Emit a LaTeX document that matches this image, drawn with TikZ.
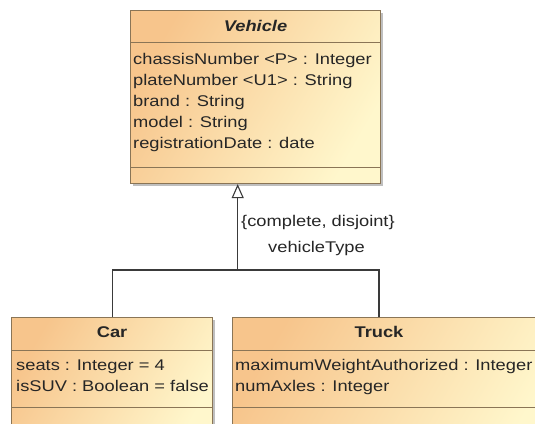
\documentclass[tikz,border=0pt]{standalone}
\usepackage{fontspec}
\setmainfont[FakeStretch=1.18]{Liberation Sans}
\usetikzlibrary{arrows.meta,shadows}
\definecolor{umlorange}{HTML}{F7C58C}
\definecolor{umlyellow}{HTML}{FFF7CC}
\definecolor{umlborder}{HTML}{8A7556}
\definecolor{ink}{HTML}{262626}
\definecolor{wire}{HTML}{3A3A3A}
\tikzset{>=Latex,
  every node/.style={font=\fontsize{15.5}{21}\selectfont,text=ink,inner sep=0pt},
  classbox/.style={draw=umlborder,line width=1.1pt,anchor=north west,
    top color=umlorange,bottom color=umlyellow,shading angle=60,
    drop shadow={shadow xshift=2.5pt,shadow yshift=-2.5pt,fill=black,opacity=.25}},
  compartment/.style={draw=umlborder,line width=.9pt},
  classname/.style={anchor=base,font=\fontsize{15.5}{21}\selectfont\bfseries},
  attr/.style={anchor=base west},
  generalization/.style={draw=wire,line width=1.1pt}}

\begin{document}
\begin{tikzpicture}[x=1pt,y=-1pt]
\path[use as bounding box] (0,0) rectangle (535,423);
% classes
\node[classbox,minimum width=250pt,minimum height=173pt] (vehicle) at (130,10) {};
\node[classbox,minimum width=201pt,minimum height=130pt] (car) at (11,317) {};
\node[classbox,minimum width=328pt,minimum height=130pt] (truck) at (232,317) {};
\foreach \n/\a/\b in {vehicle/32/157,car/33/90,truck/33/90}{
  \draw[compartment] ([yshift=-\a pt]\n.north west)--([yshift=-\a pt]\n.north east);
  \draw[compartment] ([yshift=-\b pt]\n.north west)--([yshift=-\b pt]\n.north east);}
\node[classname] (vehicle-name) at ([yshift=-21.7pt]vehicle.north) {\itshape Vehicle};
\node[classname] (car-name) at ([yshift=-20.5pt]car.north) {Car};
\node[classname] (truck-name) at ([xshift=147pt,yshift=-20.5pt]truck.north west) {Truck};
\foreach \t [count=\i] in {chassisNumber <P> : Integer,plateNumber <U1> : String,
  brand : String,model : String,registrationDate : date}
  \node[attr] (vehicle-attr\i) at ([xshift=3pt,yshift={-54.5pt-21pt*(\i-1)}]vehicle.north west) {\t};
\node[attr] (car-attr1) at ([xshift=5pt,yshift=-53.7pt]car.north west) {seats : Integer = 4};
\node[attr] (car-attr2) at ([xshift=5pt,yshift=-74.7pt]car.north west) {isSUV : Boolean = false};
\node[attr] (truck-attr1) at ([xshift=3pt,yshift=-53.7pt]truck.north west) {maximumWeightAuthorized : Integer};
\node[attr] (truck-attr2) at ([xshift=3pt,yshift=-74.7pt]truck.north west) {numAxles : Integer};
% generalization set
\coordinate (fork) at (237.7,270);
\draw[generalization] (car.north) |- (fork);
\draw[generalization] ([xshift=147pt]truck.north west) |- (fork);
\draw[generalization,-{Triangle[length=14pt,width=12pt,fill=white]}] (fork)--(fork |- vehicle.south);
\node[anchor=west] (gs-constraint) at (241,222) {\{complete, disjoint\}};
\node (gs-name) at (316.5,248) {vehicleType};
\end{tikzpicture}
\end{document}
